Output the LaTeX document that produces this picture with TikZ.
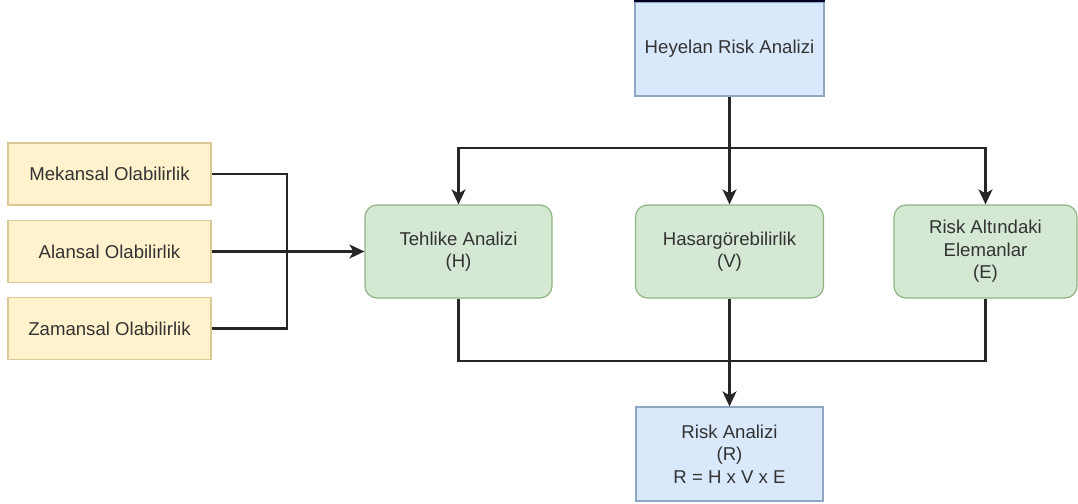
\documentclass[tikz,border=0pt]{standalone}
\usepackage{fontspec}
\setmainfont{Liberation Sans}
\usetikzlibrary{arrows.meta}
\definecolor{bluefill}{HTML}{DAE8FC}
\definecolor{blueline}{HTML}{8FA6C4}
\definecolor{yelfill}{HTML}{FFF2CC}
\definecolor{yelline}{HTML}{DCC894}
\definecolor{grnfill}{HTML}{D5E8D4}
\definecolor{grnline}{HTML}{8FB383}
\definecolor{ink}{HTML}{333333}
\definecolor{wire}{HTML}{262626}
\tikzset{
  box/.style={draw, line width=1.2pt, align=center, text=ink,
    font=\fontsize{18.6}{22.5}\selectfont, inner sep=0pt},
  bluebox/.style={box, fill=bluefill, draw=blueline},
  yelbox/.style={box, fill=yelfill, draw=yelline, minimum width=203pt, minimum height=62pt},
  grnbox/.style={box, fill=grnfill, draw=grnline, rounded corners=12pt, minimum height=93pt},
  wireline/.style={draw=wire, line width=2.2pt},
  arr/.style={wireline, -{Stealth[length=15pt,width=14pt,inset=4pt]}}
}
\begin{document}
\begin{tikzpicture}[x=1pt,y=-1pt]
  \useasboundingbox (0,0) rectangle (1078,503);

  % top and bottom analysis boxes
  \node[bluebox, minimum width=189pt, minimum height=94pt] (top) at (729.5,49) {Heyelan Risk Analizi};
  \draw[draw=black!85!blue, line width=2pt] (top.north west) -- (top.north east);
  \node[bluebox, minimum width=187pt, minimum height=94pt] (R) at (729.5,454) {Risk Analizi\\(R)\\R = H x V x E};

  % probability inputs
  \node[yelbox] (M) at (109.5,174) {Mekansal Olabilirlik};
  \node[yelbox] (A) at (109.5,251.5) {Alansal Olabilirlik};
  \node[yelbox] (Z) at (109.5,328.5) {Zamansal Olabilirlik};

  % components
  \node[grnbox, minimum width=187pt] (H) at (458.5,251.5) {Tehlike Analizi\\(H)};
  \node[grnbox, minimum width=188pt] (V) at (729.5,251.5) {Hasargörebilirlik\\(V)};
  \node[grnbox, minimum width=183pt] (E) at (985.5,251.5) {Risk Altındaki\\Elemanlar\\(E)};

  % junction points
  \coordinate (bus) at (729.5,148);
  \coordinate (bus2) at (729.5,361);
  \coordinate (lj) at (287,251.5);

  % top distribution
  \draw[wireline] (top.south) -- (bus);
  \draw[arr] (bus) -| (H.north);
  \draw[arr] (bus) -- (V.north);
  \draw[arr] (bus) -| (E.north);

  % inputs into hazard analysis
  \draw[wireline] (M.east) -| (lj);
  \draw[wireline] (Z.east) -| (lj);
  \draw[arr] (A.east) -- (H.west);

  % combination into risk
  \draw[wireline] (H.south) |- (bus2);
  \draw[wireline] (E.south) |- (bus2);
  \draw[arr] (V.south) -- (R.north);
\end{tikzpicture}
\end{document}
